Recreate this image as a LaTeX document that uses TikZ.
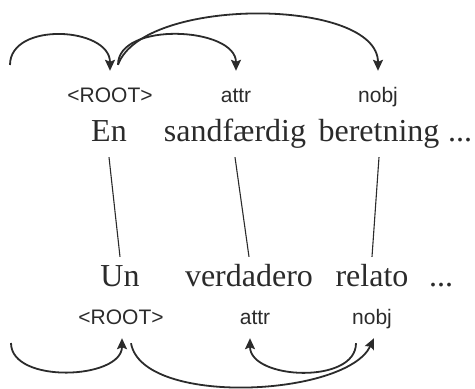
\documentclass[tikz,border=0pt]{standalone}
\usepackage{fontspec}
\setmainfont{Liberation Serif}
\setsansfont{Liberation Sans}
\usetikzlibrary{arrows.meta}
\definecolor{inkgray}{HTML}{2B2B2B}
\begin{document}
\begin{tikzpicture}[x=1pt, y=1pt,
  word/.style={font=\fontsize{32}{36}\selectfont, text=inkgray, anchor=base,
    inner sep=0pt, text height=30pt, text depth=15pt},
  deplabel/.style={font=\sffamily\fontsize{21}{24}\selectfont, text=inkgray, anchor=base,
    inner sep=0pt, text height=32pt, text depth=13pt},
  arc/.style={draw=inkgray, line width=1.8pt, -{Stealth[length=11pt,width=10pt,inset=2pt]}},
  link/.style={draw=inkgray, line width=1.1pt}]
  \useasboundingbox (0,0) rectangle (475,389);
  % labels (top)
  \node[deplabel] (rootT) at (110,286) {<ROOT>};
  \node[deplabel] (attrT) at (236,286) {attr};
  \node[deplabel] (nobjT) at (378,286) {nobj};
  % Danish sentence
  \node[word] (en)    at (109,247) {En};
  \node[word] (sand)  at (235,247) {sandfærdig};
  \node[word] (beret) at (379,247) {beretning};
  \node[word] (dotsT) at (460,247) {...};
  % Spanish sentence
  \node[word] (un)    at (120,102) {Un};
  \node[word] (verd)  at (249,102) {verdadero};
  \node[word] (rel)   at (372,102) {relato};
  \node[word] (dotsB) at (441,102) {...};
  % labels (bottom)
  \node[deplabel] (rootB) at (121,64) {<ROOT>};
  \node[deplabel] (attrB) at (255,64) {attr};
  \node[deplabel] (nobjB) at (372,64) {nobj};
  % free ends of the root arcs
  \coordinate (inT) at (10,324);
  \coordinate (inB) at (11,46);
  % alignment
  \draw[link] (en.south) -- (un.north);
  \draw[link] (sand.south) -- (verd.north);
  \draw[link] (beret.south) -- (rel.north);
  % arcs (top)
  \draw[arc] (inT) to[out=90, in=90, looseness=1.12] (rootT.north);
  \draw[arc] ([xshift=8pt,yshift=6pt]rootT.north) to[out=90, in=90, looseness=0.95] ([xshift=0pt]attrT.north);
  \draw[arc] ([xshift=8pt,yshift=6pt]rootT.north) to[out=70, in=90, looseness=0.72] (nobjT.north);
  % arcs (bottom)
  \draw[arc] (inB) to[out=-90, in=-90, looseness=0.95] ([xshift=1pt]rootB.south);
  \draw[arc] ([xshift=10pt,yshift=-5pt]rootB.south) to[out=-80, in=-115, looseness=0.68] ([xshift=2pt]nobjB.south);
  \draw[arc] ([xshift=-16pt,yshift=-5pt]nobjB.south) to[out=-90, in=-90, looseness=1] ([xshift=-5pt]attrB.south);
\end{tikzpicture}
\end{document}
